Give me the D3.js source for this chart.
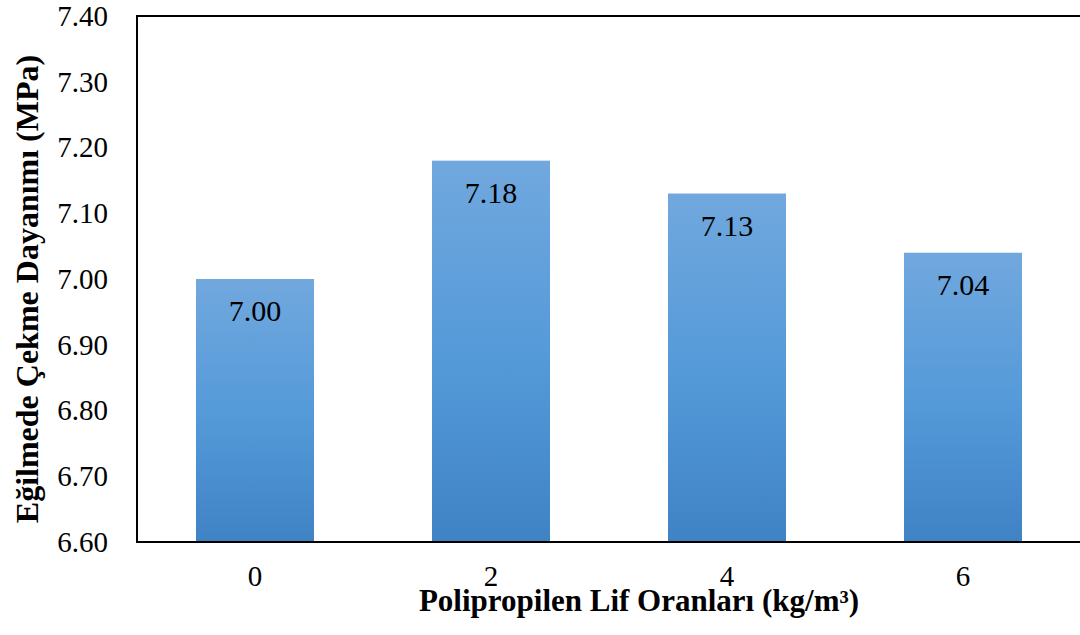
<!DOCTYPE html>
<html>
<head>
<meta charset="utf-8">
<script src="https://cdn.jsdelivr.net/npm/d3@7"></script>
<style>
  html, body { margin: 0; padding: 0; background: #fff; }
  svg { display: block; }
  text { font-family: "Liberation Serif", Tinos, "Times New Roman", Times, "DejaVu Serif", "Noto Serif", serif; fill: #000; }
</style>
</head>
<body>
<svg id="chart" width="1080" height="635"></svg>
<script>
// Fibre dosage (kg/m³) and flexural tensile strength (MPa)
const categories = ["0", "2", "4", "6"];
const strengths = [7.00, 7.18, 7.13, 7.04];
const yTicks = [6.60, 6.70, 6.80, 6.90, 7.00, 7.10, 7.20, 7.30, 7.40];
const xTitle = "Polipropilen Lif Oranları (kg/m³)";
const yTitle = "Eğilmede Çekme Dayanımı (MPa)";

const svg = d3.select("#chart");
const plot = { left: 137, right: 1081, top: 16, bottom: 542 };

const x = d3.scaleBand()
  .domain(categories)
  .range([plot.left, plot.right])
  .paddingInner(0.5)
  .paddingOuter(0.25);

const y = d3.scaleLinear()
  .domain([6.6, 7.4])
  .range([plot.bottom, plot.top]);

// vertical gradient used for every bar
const defs = svg.append("defs");
const grad = defs.append("linearGradient")
  .attr("id", "barFill")
  .attr("x1", 0).attr("y1", 0).attr("x2", 0).attr("y2", 1);
grad.append("stop").attr("offset", "0%").attr("stop-color", "#71a8de");
grad.append("stop").attr("offset", "50%").attr("stop-color", "#559ad9");
grad.append("stop").attr("offset", "100%").attr("stop-color", "#3f83c5");

const data = categories.map((c, i) => ({ cat: c, value: strengths[i] }));

// bars
svg.append("g").selectAll("rect")
  .data(data)
  .join("rect")
  .attr("x", d => x(d.cat))
  .attr("width", x.bandwidth())
  .attr("y", d => y(d.value))
  .attr("height", d => y(6.6) - y(d.value))
  .attr("fill", "url(#barFill)");

// value labels inside the bars
svg.append("g").selectAll("text")
  .data(data)
  .join("text")
  .attr("x", d => x(d.cat) + x.bandwidth() / 2)
  .attr("y", d => y(d.value) + 42)
  .attr("text-anchor", "middle")
  .attr("font-size", 30)
  .text(d => d.value.toFixed(2));

// plot frame
svg.append("rect")
  .attr("x", plot.left)
  .attr("y", plot.top)
  .attr("width", plot.right - plot.left)
  .attr("height", plot.bottom - plot.top)
  .attr("fill", "none")
  .attr("stroke", "#000")
  .attr("stroke-width", 2);

// y axis
const yAxis = svg.append("g")
  .attr("transform", `translate(${plot.left},0)`)
  .call(d3.axisLeft(y).tickValues(yTicks).tickFormat(d3.format(".2f")).tickSize(0).tickPadding(29));
yAxis.attr("font-family", null);
yAxis.select(".domain").remove();
yAxis.selectAll("text")
  .attr("font-size", 29)
  .attr("fill", "#000");

// x axis
const xAxis = svg.append("g")
  .attr("transform", `translate(0,${plot.bottom})`)
  .call(d3.axisBottom(x).tickSize(0).tickPadding(23));
xAxis.attr("font-family", null);
xAxis.select(".domain").remove();
xAxis.selectAll("text")
  .attr("font-size", 29)
  .attr("fill", "#000");

// axis titles
svg.append("text")
  .attr("x", 639)
  .attr("y", 611)
  .attr("text-anchor", "middle")
  .attr("font-size", 31)
  .attr("font-weight", "bold")
  .text(xTitle);

svg.append("text")
  .attr("transform", "translate(38,289) rotate(-90)")
  .attr("text-anchor", "middle")
  .attr("font-size", 32)
  .attr("font-weight", "bold")
  .text(yTitle);
</script>
</body>
</html>
